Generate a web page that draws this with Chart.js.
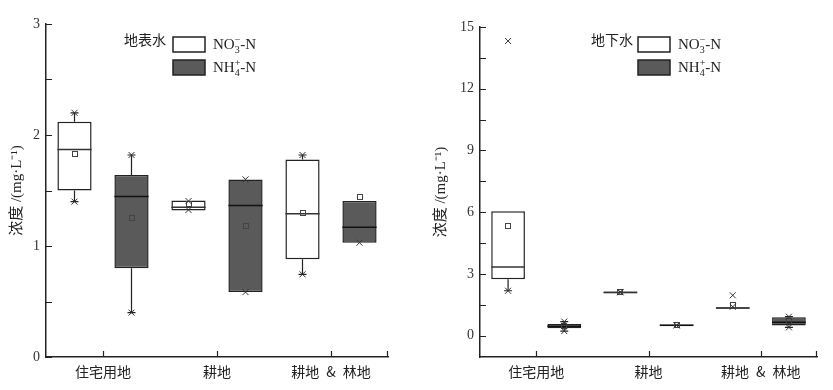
<!DOCTYPE html>
<html>
<head>
<meta charset="utf-8">
<script src="https://cdn.jsdelivr.net/npm/chart.js@4.4.1/dist/chart.umd.min.js"></script>
<style>
  html, body { margin: 0; padding: 0; background: #fff; }
  #wrap { position: relative; width: 833px; height: 390px; }
  canvas { position: absolute; top: 0; }
  #c1 { left: 0; }
  #c2 { left: 416px; }
</style>
</head>
<body>
<div id="wrap">
  <canvas id="c1" width="416" height="390"></canvas>
  <canvas id="c2" width="417" height="390"></canvas>
</div>
<script>
// ---------- DATA ----------
const categories = ['住宅用地', '耕地', '耕地\u2002&\u2002林地'];
const seriesNames = ['NO3-N', 'NH4-N'];

// 地表水 (surface water)
const swTicks = [0, 1, 2, 3];
const swNO3_q1     = [1.50, 1.32, 0.88];
const swNO3_q3     = [2.12, 1.41, 1.78];
const swNO3_median = [1.87, 1.35, 1.29];
const swNO3_mean   = [1.83, 1.375, 1.30];
const swNO3_wLo    = [1.40, 1.32, 0.745];
const swNO3_wHi    = [2.20, 1.41, 1.82];
const swNO3_min    = [1.40, 1.325, 0.745];
const swNO3_max    = [2.20, 1.405, 1.82];

const swNH4_q1     = [0.80, 0.585, 1.03];
const swNH4_q3     = [1.64, 1.60, 1.405];
const swNH4_median = [1.445, 1.365, 1.17];
const swNH4_mean   = [1.25, 1.18, 1.44];
const swNH4_wLo    = [0.40, 0.585, 1.03];
const swNH4_wHi    = [1.82, 1.60, 1.405];
const swNH4_min    = [0.40, 0.585, 1.03];
const swNH4_max    = [1.82, 1.60, null];

// 地下水 (groundwater)
const gwTicks = [0, 3, 6, 9, 12, 15];
const gwNO3_q1     = [2.74, 2.06, 1.30];
const gwNO3_q3     = [6.04, 2.14, 1.38];
const gwNO3_median = [3.33, 2.10, 1.34];
const gwNO3_mean   = [5.34, 2.10, 1.49];
const gwNO3_wLo    = [2.18, 2.06, 1.30];
const gwNO3_wHi    = [6.04, 2.14, 1.38];
const gwNO3_min    = [2.18, 2.11, 1.40];
const gwNO3_max    = [14.32, 2.11, 1.96];

const gwNH4_q1     = [0.36, 0.46, 0.49];
const gwNH4_q3     = [0.57, 0.54, 0.89];
const gwNH4_median = [0.45, 0.50, 0.65];
const gwNH4_mean   = [0.45, 0.50, 0.72];
const gwNH4_wLo    = [0.22, 0.46, 0.40];
const gwNH4_wHi    = [0.68, 0.54, 0.92];
const gwNH4_min    = [0.22, 0.50, 0.40];
const gwNH4_max    = [0.68, 0.50, 0.92];

// ---------- STYLE ----------
const WHITE = '#ffffff';
const GRAY = '#5a5a5a';
const LINE = '#222222';
const CJK = '"Noto Sans CJK SC", "Noto Sans", sans-serif';
const SERIF = '"Liberation Serif", "DejaVu Serif", serif';
const TITLEFONT = '"Liberation Serif", "Noto Sans CJK SC", serif';

function stats(q1, q3, med, mean, wLo, wHi, mn, mx) {
  return { q1, q3, med, mean, wLo, wHi, mn, mx };
}

const boxExtras = {
  id: 'boxExtras',
  afterDatasetsDraw(chart) {
    const ctx = chart.ctx;
    const ys = chart.scales.y;
    ctx.save();
    chart.data.datasets.forEach((ds, di) => {
      const meta = chart.getDatasetMeta(di);
      const s = ds.stats;
      meta.data.forEach((bar, i) => {
        const x = bar.x, hw = bar.width / 2;
        const yq1 = ys.getPixelForValue(s.q1[i]);
        const yq3 = ys.getPixelForValue(s.q3[i]);
        ctx.strokeStyle = LINE;
        ctx.lineWidth = 1.2;
        if (s.wHi[i] != null && s.wHi[i] > s.q3[i]) {
          const yw = ys.getPixelForValue(s.wHi[i]);
          ctx.beginPath(); ctx.moveTo(x, yq3); ctx.lineTo(x, yw);
          ctx.moveTo(x - 4, yw); ctx.lineTo(x + 4, yw); ctx.stroke();
        }
        if (s.wLo[i] != null && s.wLo[i] < s.q1[i]) {
          const yw = ys.getPixelForValue(s.wLo[i]);
          ctx.beginPath(); ctx.moveTo(x, yq1); ctx.lineTo(x, yw);
          ctx.moveTo(x - 4, yw); ctx.lineTo(x + 4, yw); ctx.stroke();
        }
        ctx.strokeStyle = ds.medianColor;
        ctx.lineWidth = 1.5;
        const ym = ys.getPixelForValue(s.med[i]);
        ctx.beginPath(); ctx.moveTo(x - hw, ym); ctx.lineTo(x + hw, ym); ctx.stroke();
        ctx.strokeStyle = '#444';
        ctx.lineWidth = 1;
        const yme = ys.getPixelForValue(s.mean[i]);
        ctx.strokeRect(Math.round(x) - 2.5, Math.round(yme) - 2.5, 5, 5);
        ctx.strokeStyle = '#333';
        [s.mn[i], s.mx[i]].forEach(v => {
          if (v == null) return;
          const yv = ys.getPixelForValue(v);
          ctx.beginPath();
          ctx.moveTo(x - 3, yv - 3); ctx.lineTo(x + 3, yv + 3);
          ctx.moveTo(x + 3, yv - 3); ctx.lineTo(x - 3, yv + 3);
          ctx.stroke();
        });
      });
    });
    ctx.restore();
  }
};

const inwardTicks = {
  id: 'inwardTicks',
  afterDraw(chart, args, opts) {
    const ctx = chart.ctx;
    const ys = chart.scales.y, xs = chart.scales.x;
    const a = chart.chartArea;
    ctx.save();
    ctx.strokeStyle = LINE;
    ctx.lineWidth = 1.2;
    ctx.beginPath();
    for (let v = 0; v <= opts.max + 1e-9; v += opts.minor) {
      const p = Math.round(ys.getPixelForValue(v)) + 0.5;
      ctx.moveTo(a.left, p); ctx.lineTo(a.left + 6, p);
    }
    xs.ticks.forEach((t, i) => {
      const p = Math.round(xs.getPixelForTick(i)) + 0.5;
      ctx.moveTo(p, a.bottom); ctx.lineTo(p, a.bottom - 6);
    });
    ctx.moveTo(a.right - 0.5, a.bottom); ctx.lineTo(a.right - 0.5, a.bottom - 6);
    ctx.stroke();
    ctx.restore();
  }
};

function drawChem(ctx, x, y, base, sub, sup) {
  ctx.font = '15px ' + SERIF;
  ctx.textBaseline = 'middle';
  ctx.textAlign = 'left';
  ctx.fillText(base, x, y);
  let w = ctx.measureText(base).width;
  ctx.font = '10px ' + SERIF;
  ctx.fillText(sub, x + w, y + 5);
  ctx.fillText(sup, x + w, y - 5);
  w += Math.max(ctx.measureText(sub).width, ctx.measureText(sup).width);
  ctx.font = '15px ' + SERIF;
  ctx.fillText('-N', x + w, y);
}

const customLegend = {
  id: 'customLegend',
  afterDraw(chart, args, opts) {
    const ctx = chart.ctx;
    ctx.save();
    ctx.fillStyle = '#222';
    ctx.font = '14px ' + CJK;
    ctx.textBaseline = 'middle';
    ctx.textAlign = 'left';
    ctx.fillText(opts.title, opts.tx, opts.ty);
    chart.data.datasets.forEach((d, i) => {
      const by = opts.by + i * 23;
      ctx.fillStyle = d.backgroundColor;
      ctx.fillRect(opts.bx, by, 32, 15);
      ctx.strokeStyle = LINE;
      ctx.lineWidth = 1.5;
      ctx.strokeRect(opts.bx, by, 32, 15);
      ctx.fillStyle = '#222';
      if (i === 0) drawChem(ctx, opts.bx + 40, by + 8, 'NO', '3', '−');
      else drawChem(ctx, opts.bx + 40, by + 8, 'NH', '4', '+');
    });
    ctx.restore();
  }
};

function makeChart(id, cfg) {
  const datasets = [
    {
      label: seriesNames[0],
      data: cfg.no3.q1.map((v, i) => [v, cfg.no3.q3[i]]),
      backgroundColor: WHITE, borderColor: LINE, borderWidth: 1.5, borderSkipped: false,
      medianColor: '#333', stats: cfg.no3
    },
    {
      label: seriesNames[1],
      data: cfg.nh4.q1.map((v, i) => [v, cfg.nh4.q3[i]]),
      backgroundColor: GRAY, borderColor: LINE, borderWidth: 1.5, borderSkipped: false,
      medianColor: '#111', stats: cfg.nh4
    }
  ];
  return new Chart(document.getElementById(id), {
    type: 'bar',
    data: { labels: categories, datasets },
    plugins: [boxExtras, inwardTicks, customLegend],
    options: {
      responsive: false,
      animation: false,
      devicePixelRatio: 1,
      layout: { padding: cfg.padding },
      categoryPercentage: 1.0,
      barPercentage: 0.6,
      plugins: {
        legend: { display: false },
        tooltip: { enabled: false },
        inwardTicks: { max: cfg.max, minor: cfg.minor },
        customLegend: cfg.legend
      },
      scales: {
        x: {
          grid: { display: false, drawTicks: false },
          border: { display: true, color: LINE, width: 1.5 },
          ticks: { font: { family: CJK, size: 14 }, color: '#222', padding: 6, maxRotation: 0 },
          afterFit(s) { s.height = 33; }
        },
        y: {
          min: cfg.min, max: cfg.max,
          grid: { display: false, drawTicks: false },
          border: { display: true, color: LINE, width: 1.5 },
          ticks: { font: { family: SERIF, size: 14 }, color: '#333', padding: 6 },
          afterBuildTicks(s) { s.ticks = cfg.ticks.map(v => ({ value: v })); },
          title: {
            display: true, text: '浓度 /(mg·L⁻¹)',
            font: { family: TITLEFONT, size: 15 }, color: '#222',
            padding: { top: cfg.titlePad, bottom: 0 }
          },
          afterFit(s) { s.width = cfg.yWidth; }
        }
      }
    }
  });
}

makeChart('c1', {
  no3: stats(swNO3_q1, swNO3_q3, swNO3_median, swNO3_mean, swNO3_wLo, swNO3_wHi, swNO3_min, swNO3_max),
  nh4: stats(swNH4_q1, swNH4_q3, swNH4_median, swNH4_mean, swNH4_wLo, swNH4_wHi, swNH4_min, swNH4_max),
  min: 0, max: 3, minor: 0.5, ticks: swTicks,
  padding: { top: 24, right: 28, left: 0, bottom: 0 },
  yWidth: 46, titlePad: 8,
  legend: { title: '地表水', tx: 124, ty: 40, bx: 173, by: 37 }
});

makeChart('c2', {
  no3: stats(gwNO3_q1, gwNO3_q3, gwNO3_median, gwNO3_mean, gwNO3_wLo, gwNO3_wHi, gwNO3_min, gwNO3_max),
  nh4: stats(gwNH4_q1, gwNH4_q3, gwNH4_median, gwNH4_mean, gwNH4_wLo, gwNH4_wHi, gwNH4_min, gwNH4_max),
  min: -1.04, max: 15, minor: 1.5, ticks: gwTicks,
  padding: { top: 27, right: 16, left: 0, bottom: 0 },
  yWidth: 64, titlePad: 16,
  legend: { title: '地下水', tx: 175, ty: 40, bx: 222, by: 37 }
});
</script>
</body>
</html>
